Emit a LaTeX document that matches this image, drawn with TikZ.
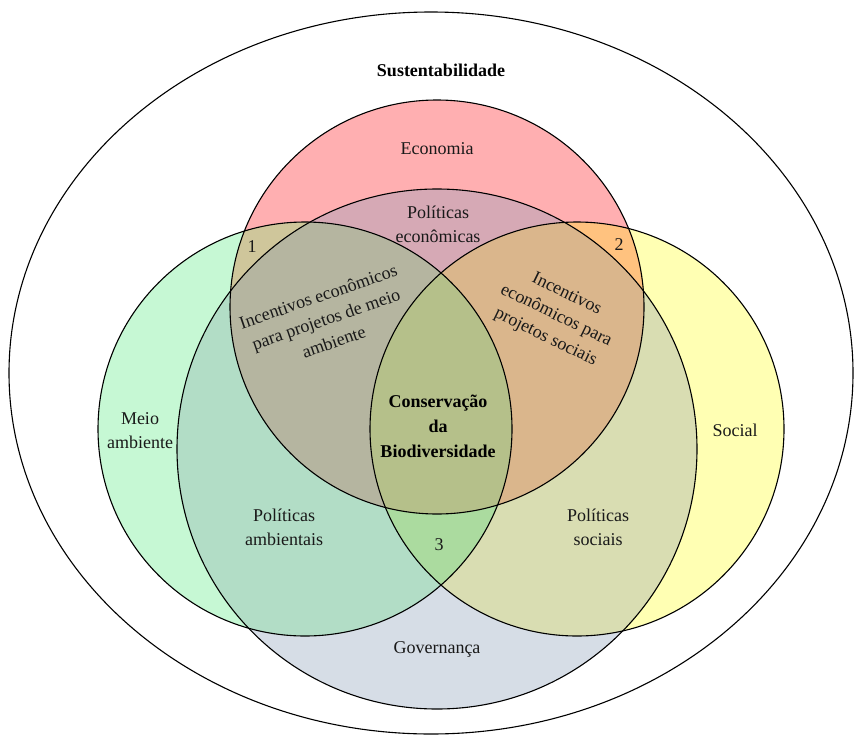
\documentclass[tikz,border=0pt]{standalone}
\usepackage{fontspec}
\setmainfont{Liberation Serif}
\definecolor{cP}{HTML}{FFAFB1}
\definecolor{cG}{HTML}{C6F8D4}
\definecolor{cY}{HTML}{FFFFB3}
\definecolor{cV}{HTML}{D6DDE6}
\definecolor{cPV}{HTML}{D6A9B5}
\definecolor{cGV}{HTML}{B2DDC6}
\definecolor{cYV}{HTML}{D9DDB2}
\definecolor{cPG}{HTML}{CFC69B}
\definecolor{cPY}{HTML}{FFC27F}
\definecolor{cPGV}{HTML}{B5B5A0}
\definecolor{cPYV}{HTML}{DAB68C}
\definecolor{cGYV}{HTML}{ABDB9F}
\definecolor{cAll}{HTML}{B5C08A}
\begin{document}
\begin{tikzpicture}[x=1pt,y=-1pt,
  lbl/.style={font=\fontsize{18}{24}\selectfont, align=center, inner sep=0pt, text=black!90},
  blbl/.style={font=\fontsize{18}{25}\selectfont\bfseries, align=center, inner sep=0pt, text=black},
  ring/.style={draw=black, line width=1.1pt}]
\useasboundingbox (0,0) rectangle (856,736);
\def\cirP{(437,307) circle [radius=207pt]}
\def\cirG{(305,429) circle [radius=207pt]}
\def\cirY{(577,429) circle [radius=207pt]}
\def\cirV{(437,449) circle [radius=260pt]}
% outer ellipse
\draw[ring] (431,373) ellipse [x radius=422pt, y radius=361pt];
% single fills
\fill[cV] \cirV;
\fill[cG] \cirG;
\fill[cY] \cirY;
\fill[cP] \cirP;
% pairs
\begin{scope}\clip \cirP; \fill[cPG] \cirG; \end{scope}
\begin{scope}\clip \cirP; \fill[cPY] \cirY; \end{scope}
\begin{scope}\clip \cirP; \fill[cPV] \cirV; \end{scope}
\begin{scope}\clip \cirG; \fill[cGV] \cirV; \end{scope}
\begin{scope}\clip \cirY; \fill[cYV] \cirV; \end{scope}
\begin{scope}\clip \cirG; \fill[cGYV] \cirY; \end{scope}
% triples
\begin{scope}\clip \cirP; \clip \cirG; \fill[cPGV] \cirV; \end{scope}
\begin{scope}\clip \cirP; \clip \cirY; \fill[cPYV] \cirV; \end{scope}
\begin{scope}\clip \cirG; \clip \cirY; \fill[cGYV] \cirV; \end{scope}
% quadruple
\begin{scope}\clip \cirP; \clip \cirG; \clip \cirY; \fill[cAll] \cirV; \end{scope}
% outlines
\draw[ring] \cirV;
\draw[ring] \cirG;
\draw[ring] \cirY;
\draw[ring] \cirP;
% labels
\node[blbl] (sust) at (441,70) {Sustentabilidade};
\node[lbl] (econ) at (437,149) {Economia};
\node[lbl] (pecon) at (438,224) {Políticas\\econômicas};
\node[lbl] (n1) at (252,247) {1};
\node[lbl] (n2) at (619,245) {2};
\node[lbl] (meio) at (140,431) {Meio\\ambiente};
\node[lbl] (social) at (735,430) {Social};
\node[lbl] (pamb) at (284,527) {Políticas\\ambientais};
\node[lbl] (psoc) at (598,527) {Políticas\\sociais};
\node[lbl] (n3) at (439,545) {3};
\node[lbl] (gov) at (437,649) {Governança};
\node[blbl] (cons) at (438,426) {Conservação\\da\\Biodiversidade};
\node[lbl, rotate=19] (incamb) at (326,319) {Incentivos econômicos\\para projetos de meio\\ambiente};
\node[lbl, rotate=-26] (incsoc) at (556,316) {Incentivos\\econômicos para\\projetos sociais};
\end{tikzpicture}
\end{document}
